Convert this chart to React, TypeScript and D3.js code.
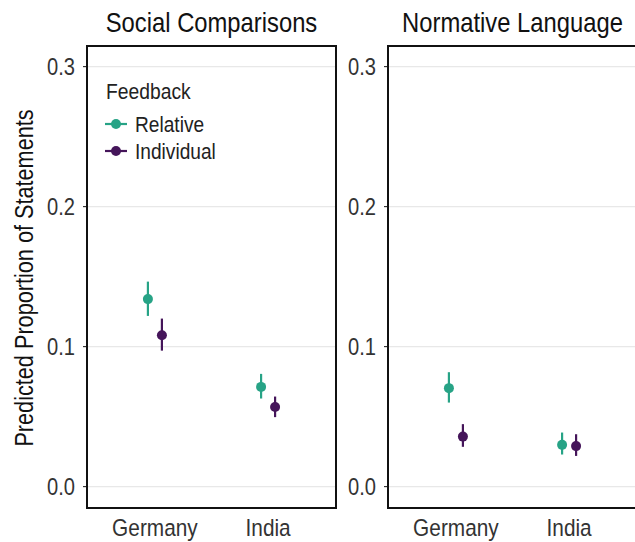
import React from "react";
import * as d3 from "d3";

const panels = ["Social Comparisons", "Normative Language"];
const countries = ["Germany", "India"];
const groups = ["Relative", "Individual"];
const groupColors = ["#27A386", "#45155A"];
const yTicks = [0.0, 0.1, 0.2, 0.3];

// [country][group]
const estSocial = [[0.1339, 0.1081], [0.0712, 0.0569]];
const lowSocial = [[0.1219, 0.0971], [0.0629, 0.0496]];
const highSocial = [[0.1464, 0.12], [0.0805, 0.0643]];
const estNormative = [[0.0703, 0.0357], [0.0298, 0.0289]];
const lowNormative = [[0.06, 0.0284], [0.0229, 0.0219]];
const highNormative = [[0.0817, 0.0446], [0.0386, 0.0374]];

const FONT = "'Liberation Sans', Arial, sans-serif";
const SX = 0.85;

function Txt(props: {
  x: number; y: number; size: number; anchor?: string; rotate?: number;
  fill?: string; dy?: string; children: React.ReactNode;
}) {
  const { x, y, size, anchor = "start", rotate = 0, fill = "#111", dy, children } = props;
  return (
    <text
      transform={`translate(${x},${y}) rotate(${rotate}) scale(${SX},1)`}
      textAnchor={anchor}
      fontSize={size}
      fill={fill}
      dy={dy}
    >
      {children}
    </text>
  );
}

export default function App() {
  const W = 635, H = 542;
  const top = 46, bottom = 508;
  const panelW = 249;
  const panelX = [87, 388];
  const y = d3.scaleLinear().domain([-0.0153, 0.3147]).range([bottom, top]);
  const dodge = 14;
  const data = [
    { est: estSocial, low: lowSocial, high: highSocial },
    { est: estNormative, low: lowNormative, high: highNormative },
  ];

  return (
    <svg width={W} height={H} style={{ position: "absolute", left: 0, top: 0, background: "#fff" }} fontFamily={FONT}>
      <rect x={0} y={0} width={W} height={H} fill="#fff" />
      <Txt x={33} y={(top + bottom) / 2 + 1} rotate={-90} anchor="middle" size={25.5} fill="#111">
        Predicted Proportion of Statements
      </Txt>
      {panels.map((p, pi) => {
        const x0 = panelX[pi];
        const x = d3.scalePoint<string>().domain(countries).range([x0, x0 + panelW]).padding(0.6);
        const d = data[pi];
        return (
          <g key={p}>
            <Txt x={x0 + panelW / 2} y={31.5} anchor="middle" size={28} fill="#111">{p}</Txt>
            {yTicks.map((t) => (
              <g key={t}>
                <line x1={x0} x2={x0 + panelW} y1={y(t)} y2={y(t)} stroke="#e8e8e8" strokeWidth={1.2} />
                <line x1={x0 - 4} x2={x0} y1={y(t)} y2={y(t)} stroke="#333" strokeWidth={1.2} />
                <Txt x={x0 - 12} y={y(t)} dy="0.36em" anchor="end" size={23.7} fill="#333">{t.toFixed(1)}</Txt>
              </g>
            ))}
            {countries.map((c, ci) => (
              <g key={c}>
                <Txt x={x(c)!} y={536} anchor="middle" size={24.5} fill="#333">{c}</Txt>
                {groups.map((g, gi) => {
                  const cx = x(c)! + (gi === 0 ? -dodge / 2 : dodge / 2);
                  return (
                    <g key={g}>
                      <line x1={cx} x2={cx} y1={y(d.low[ci][gi])} y2={y(d.high[ci][gi])} stroke={groupColors[gi]} strokeWidth={2.2} />
                      <circle cx={cx} cy={y(d.est[ci][gi])} r={5} fill={groupColors[gi]} />
                    </g>
                  );
                })}
              </g>
            ))}
            <rect x={x0} y={top} width={panelW} height={bottom - top} fill="none" stroke="#111" strokeWidth={2} />
          </g>
        );
      })}
      <Txt x={106} y={99} size={22.7} fill="#222">Feedback</Txt>
      {groups.map((g, gi) => {
        const cy = 124 + gi * 27;
        return (
          <g key={g}>
            <line x1={105} x2={127} y1={cy} y2={cy} stroke={groupColors[gi]} strokeWidth={2.2} />
            <circle cx={116} cy={cy} r={5} fill={groupColors[gi]} />
            <Txt x={135} y={cy} dy="0.36em" size={22.5} fill="#222">{g}</Txt>
          </g>
        );
      })}
    </svg>
  );
}
